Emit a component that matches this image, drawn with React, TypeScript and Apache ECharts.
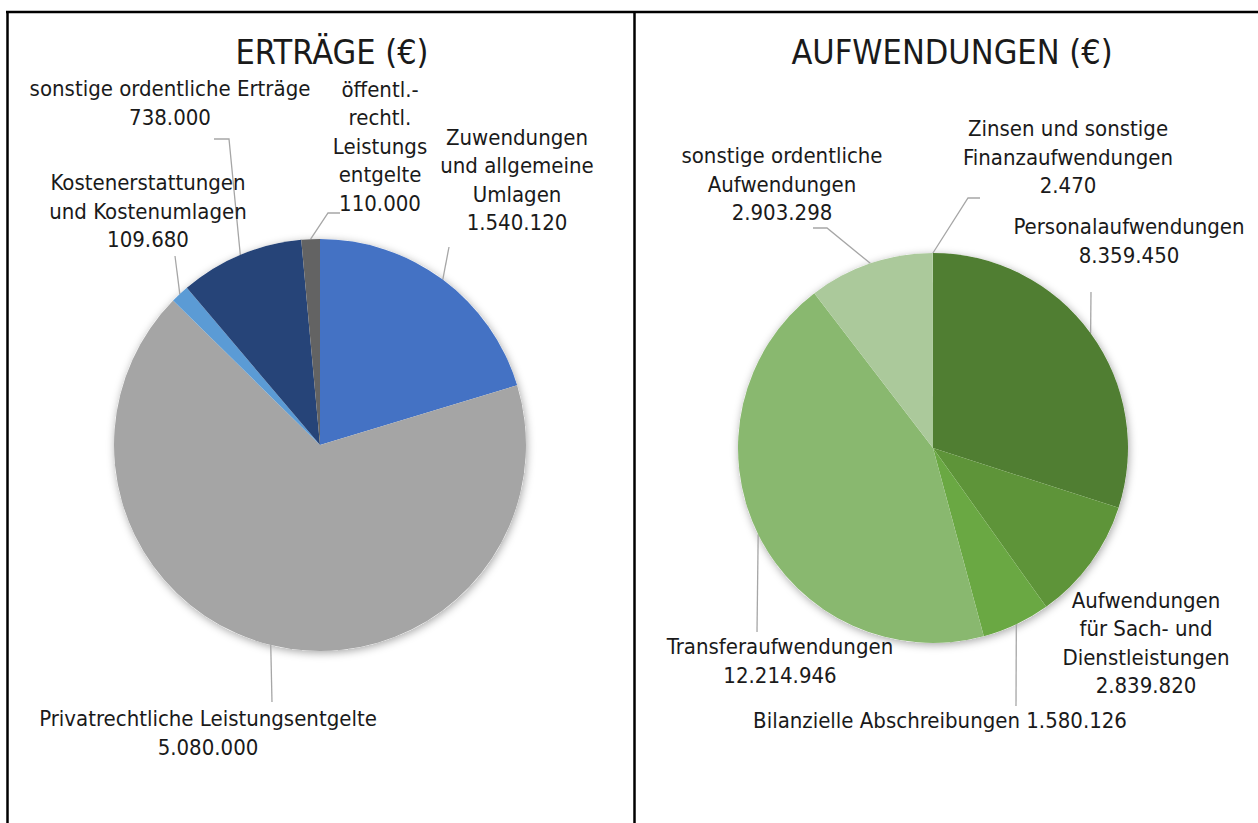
import React, { useEffect, useRef } from 'react';
import * as echarts from 'echarts';

// ---------- DATA ----------
const ertraegeCategories = [
  'Zuwendungen und allgemeine Umlagen',
  'Privatrechtliche Leistungsentgelte',
  'Kostenerstattungen und Kostenumlagen',
  'sonstige ordentliche Erträge',
  'öffentl.-rechtl. Leistungsentgelte',
];
const ertraegeLabelText = [
  'Zuwendungen\nund allgemeine\nUmlagen',
  'Privatrechtliche Leistungsentgelte',
  'Kostenerstattungen\nund Kostenumlagen',
  'sonstige ordentliche Erträge',
  'öffentl.-\nrechtl.\nLeistungs\nentgelte',
];
const ertraegeValues = [1540120, 5080000, 109680, 738000, 110000];

const aufwCategories = [
  'Personalaufwendungen',
  'Aufwendungen für Sach- und Dienstleistungen',
  'Bilanzielle Abschreibungen',
  'Transferaufwendungen',
  'sonstige ordentliche Aufwendungen',
  'Zinsen und sonstige Finanzaufwendungen',
];
const aufwLabelText = [
  'Personalaufwendungen',
  'Aufwendungen\nfür Sach- und\nDienstleistungen',
  'Bilanzielle Abschreibungen',
  'Transferaufwendungen',
  'sonstige ordentliche\nAufwendungen',
  'Zinsen und sonstige\nFinanzaufwendungen',
];
const aufwLabelSeparator = ['\n', '\n', ' ', '\n', '\n', '\n'];
const aufwValues = [8359450, 2839820, 1580126, 12214946, 2903298, 2470];

// ---------- STYLE / LAYOUT ----------
const ertraegeColors = ['#4472C4', '#A5A5A5', '#5B9BD5', '#264478', '#636363'];
const aufwColors = ['#507E32', '#5E9439', '#6AA843', '#89B86F', '#ABC99B', '#C9DDBD'];

const ertraegeLabelLayout = [
  { x: 517, y: 180, leader: [[449, 247]] },
  { x: 208, y: 733, leader: [[272, 702]] },
  { x: 148, y: 211, leader: [[175, 256]] },
  { x: 170, y: 103, leader: [[229, 139], [214, 139]] },
  { x: 380, y: 146, leader: [[328, 213], [340, 213]] },
];
const aufwLabelLayout = [
  { x: 1129, y: 241, leader: [[1091, 292]] },
  { x: 1146, y: 643, leader: null },
  { x: 940, y: 720, leader: [[1016, 706]] },
  { x: 780, y: 661, leader: [[757, 632]] },
  { x: 782, y: 184, leader: [[827, 228], [813, 228]] },
  { x: 1068, y: 157, leader: [[968, 198], [980, 198]] },
];

const FONT = "'DejaVu Sans Condensed', 'Liberation Sans Narrow', sans-serif";
const TEXT_COLOR = '#1a1a1a';

const fmt = (v: number) => String(v).replace(/\B(?=(\d{3})+(?!\d))/g, '.');

function makeLabelLayout(layout: any[]) {
  return (params: any) => {
    const L = layout[params.dataIndex];
    const res: any = { x: L.x, y: L.y, align: 'center', verticalAlign: 'middle' };
    if (L.leader && params.labelLinePoints) {
      const p0 = params.labelLinePoints[0];
      const pts = [p0, ...L.leader];
      while (pts.length < 3) pts.push(pts[pts.length - 1]);
      res.labelLinePoints = pts;
    }
    return res;
  };
}

function pieSeries(
  center: number[],
  radius: number,
  cats: string[],
  labels: string[],
  seps: string[] | null,
  values: number[],
  colors: string[],
  layout: any[]
) {
  const total = values.reduce((a, b) => a + b, 0);
  const bg = {
    type: 'pie',
    z: 1,
    silent: true,
    center,
    radius,
    label: { show: false },
    labelLine: { show: false },
    itemStyle: { color: '#ffffff', shadowBlur: 9, shadowColor: 'rgba(0,0,0,0.35)', shadowOffsetX: 1, shadowOffsetY: 2 },
    data: [{ value: total, name: '' }],
  };
  const main = {
    type: 'pie',
    z: 2,
    center,
    radius,
    startAngle: 90,
    clockwise: true,
    avoidLabelOverlap: false,
    label: {
      show: true,
      position: 'outside',
      fontFamily: FONT,
      fontSize: 22,
      lineHeight: 28.5,
      color: TEXT_COLOR,
      align: 'center',
    },
    labelLine: { show: true, length: 10, length2: 10, lineStyle: { color: '#A6A6A6', width: 1.3 } },
    labelLayout: makeLabelLayout(layout),
    itemStyle: { borderWidth: 0 },
    data: cats.map((c, i) => ({
      name: c,
      value: values[i],
      itemStyle: { color: colors[i] },
      label: { formatter: labels[i] + (seps ? seps[i] : '\n') + fmt(values[i]) },
      labelLine: { show: !!layout[i].leader },
    })),
  };
  return [bg, main];
}

export default function App() {
  const ref = useRef<HTMLDivElement>(null);
  useEffect(() => {
    if (!ref.current) return;
    const chart = echarts.init(ref.current, undefined, { renderer: 'svg' });
    chart.setOption({
      animation: false,
      backgroundColor: '#ffffff',
      graphic: [
        { type: 'line', shape: { x1: 6, y1: 12, x2: 1258, y2: 12 }, style: { stroke: '#000', lineWidth: 2.5 }, z: 10 },
        { type: 'line', shape: { x1: 7.5, y1: 11, x2: 7.5, y2: 823 }, style: { stroke: '#000', lineWidth: 2.5 }, z: 10 },
        { type: 'line', shape: { x1: 634.5, y1: 11, x2: 634.5, y2: 823 }, style: { stroke: '#000', lineWidth: 2.5 }, z: 10 },
        {
          type: 'text',
          x: 332,
          y: 52,
          style: { text: 'ERTRÄGE (€)', font: `34px ${FONT}`, fill: TEXT_COLOR, textAlign: 'center', textVerticalAlign: 'middle' },
        },
        {
          type: 'text',
          x: 952,
          y: 52,
          style: { text: 'AUFWENDUNGEN (€)', font: `34px ${FONT}`, fill: TEXT_COLOR, textAlign: 'center', textVerticalAlign: 'middle' },
        },
      ],
      series: [
        ...pieSeries([320, 445], 206, ertraegeCategories, ertraegeLabelText, null, ertraegeValues, ertraegeColors, ertraegeLabelLayout),
        ...pieSeries([933, 448], 195, aufwCategories, aufwLabelText, aufwLabelSeparator, aufwValues, aufwColors, aufwLabelLayout),
      ],
    });
    return () => chart.dispose();
  }, []);
  return <div ref={ref} style={{ position: 'absolute', left: 0, top: 0, width: 1258, height: 823, background: '#fff' }} />;
}
